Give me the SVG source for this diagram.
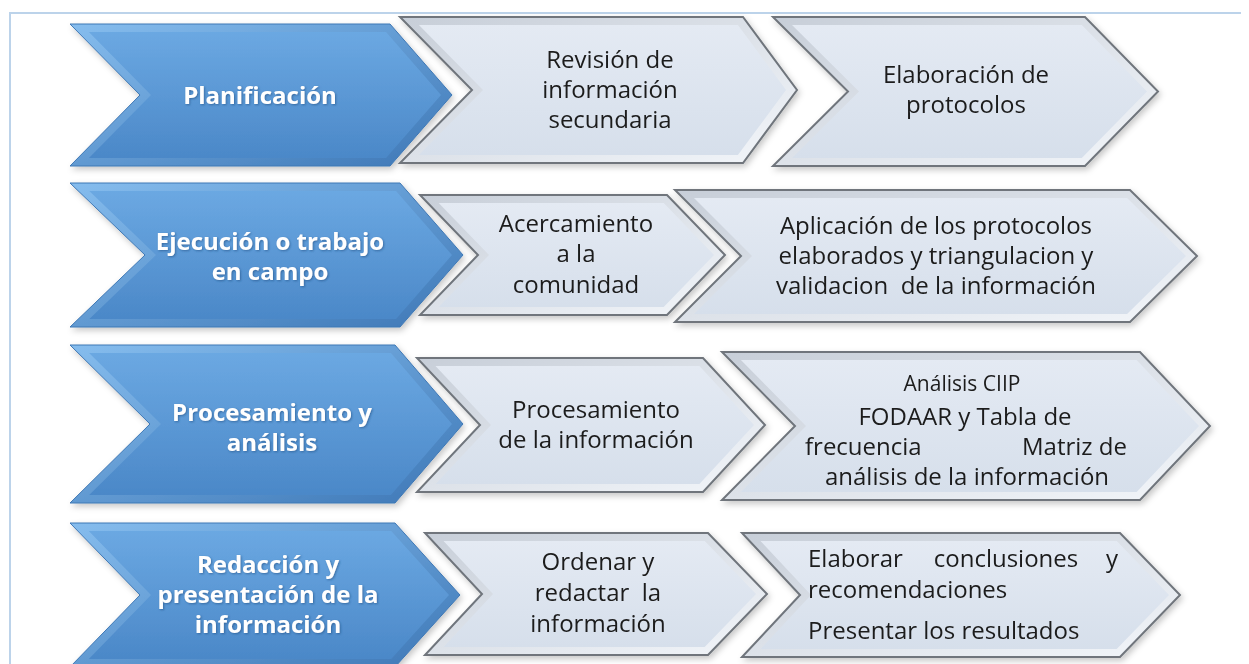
<svg xmlns="http://www.w3.org/2000/svg" width="1249" height="664" viewBox="0 0 1249 664">
<defs>
  <linearGradient id="blueFace" x1="0" y1="0" x2="0" y2="1">
    <stop offset="0" stop-color="#6ba8e2"/>
    <stop offset="1" stop-color="#4b88c8"/>
  </linearGradient>
  <linearGradient id="blueRim" x1="0" y1="0" x2="1" y2="1">
    <stop offset="0" stop-color="#86bdee"/>
    <stop offset="1" stop-color="#3d77b6"/>
  </linearGradient>
  <linearGradient id="lightFace" x1="0" y1="0" x2="0" y2="1">
    <stop offset="0" stop-color="#e4eaf3"/>
    <stop offset="1" stop-color="#d6dfeb"/>
  </linearGradient>
  <linearGradient id="lightRim" x1="0" y1="0" x2="1" y2="1">
    <stop offset="0" stop-color="#c7ced8"/>
    <stop offset="1" stop-color="#f3f6fa"/>
  </linearGradient>
  <filter id="shadow" x="-5%" y="-5%" width="110%" height="115%">
    <feDropShadow dx="2" dy="3" stdDeviation="3" flood-color="#000" flood-opacity="0.22"/>
  </filter>
  <filter id="tshadow" x="-5%" y="-20%" width="110%" height="140%">
    <feDropShadow dx="1" dy="1" stdDeviation="0.8" flood-color="#1f4e80" flood-opacity="0.6"/>
  </filter>
</defs>
<style>
  .frame { stroke:#bcd3ea; stroke-width:2; fill:none; }
  .b-out { fill:url(#blueRim); stroke:#3f78b5; stroke-width:1; }
  .b-in { fill:url(#blueFace); }
  .l-out { fill:url(#lightRim); stroke:#6f757c; stroke-width:2; }
  .l-in { fill:url(#lightFace); }
  .tw { font-family:"Open Sans","Liberation Sans",sans-serif; font-weight:bold; font-size:24px; fill:#ffffff; text-anchor:middle; }
  .td { font-family:"Open Sans","Liberation Sans",sans-serif; font-size:24px; fill:#1c1c1c; text-anchor:middle; white-space:pre; }
  .tds { font-family:"Open Sans","Liberation Sans",sans-serif; font-size:21px; fill:#1c1c1c; text-anchor:middle; }
  .tl { text-anchor:start; }
  .te { text-anchor:end; }
</style>
<rect width="1249" height="664" fill="#ffffff"/>
<path class="frame" d="M10,664 L10,13 L1241,13"/>

<g id="connectors"></g>

<!-- Row 1 -->
<g id="node-planificacion" filter="url(#shadow)">
  <polygon class="b-out" points="70,24 390,24 452,95 390,166 70,166 140,95"/>
  <polygon class="b-in" points="88.9,32 386,32 441,95 386,158 88.9,158 151,95"/>
  <text class="tw" x="260" y="104" filter="url(#tshadow)">Planificación</text>
</g>
<g id="node-revision" filter="url(#shadow)">
  <polygon class="l-out" points="400,17 743,17 797,90 743,163 400,163 472,90"/>
  <polygon class="l-in" points="418.9,25 737.9,25 786,90 737.9,155 418.9,155 483,90"/>
  <text class="td" x="610" y="68">Revisión de</text>
  <text class="td" x="610" y="98">información</text>
  <text class="td" x="610" y="128">secundaria</text>
</g>
<g id="node-elaboracion" filter="url(#shadow)">
  <polygon class="l-out" points="773,17 1085,17 1158,91.5 1085,166 773,166 848,91.5"/>
  <polygon class="l-in" points="792,25 1081.8,25 1147,91.5 1081.8,158 792,158 859,91.5"/>
  <text class="td" x="966" y="83">Elaboración de</text>
  <text class="td" x="966" y="113">protocolos</text>
</g>

<!-- Row 2 -->
<g id="node-ejecucion" filter="url(#shadow)">
  <polygon class="b-out" points="70,183 400,183 463,255 400,327 70,327 145,255"/>
  <polygon class="b-in" points="89.3,191 396,191 452,255 396,319 89.3,319 156,255"/>
  <text class="tw" x="270" y="250" filter="url(#tshadow)">Ejecución o trabajo</text>
  <text class="tw" x="270" y="280" filter="url(#tshadow)">en campo</text>
</g>
<g id="node-acercamiento" filter="url(#shadow)">
  <polygon class="l-out" points="420,195 667,195 725,255 667,315 420,315 478,255"/>
  <polygon class="l-in" points="438.7,203 663.7,203 714,255 663.7,307 438.7,307 489,255"/>
  <text class="td" x="576" y="232">Acercamiento</text>
  <text class="td" x="576" y="262">a la</text>
  <text class="td" x="576" y="293">comunidad</text>
</g>
<g id="node-aplicacion" filter="url(#shadow)">
  <polygon class="l-out" points="675,190 1130,190 1197,256 1130,322 675,322 741,256"/>
  <polygon class="l-in" points="694,198 1127.1,198 1186,256 1127.1,314 694,314 752,256"/>
  <text class="td" x="936" y="234">Aplicación de los protocolos</text>
  <text class="td" x="936" y="264">elaborados y triangulacion y</text>
  <text class="td" x="936" y="294">validacion  de la información</text>
</g>

<!-- Row 3 -->
<g id="node-procesamiento-analisis" filter="url(#shadow)">
  <polygon class="b-out" points="70,345 395,345 463,424 395,503 70,503 150,424"/>
  <polygon class="b-in" points="89.1,353 390.9,353 452,424 390.9,495 89.1,495 161,424"/>
  <text class="tw" x="272" y="421" filter="url(#tshadow)">Procesamiento y</text>
  <text class="tw" x="272" y="451" filter="url(#tshadow)">análisis</text>
</g>
<g id="node-procesamiento-info" filter="url(#shadow)">
  <polygon class="l-out" points="417,358 703,358 765,425 703,492 417,492 480,425"/>
  <polygon class="l-in" points="435.5,366 699.4,366 754,425 699.4,484 435.5,484 491,425"/>
  <text class="td" x="596" y="418">Procesamiento</text>
  <text class="td" x="596" y="448">de la información</text>
</g>
<g id="node-analisis" filter="url(#shadow)">
  <polygon class="l-out" points="722,352 1140,352 1210,426 1140,500 722,500 795,426"/>
  <polygon class="l-in" points="740.9,360 1136.6,360 1199,426 1136.6,492 740.9,492 806,426"/>
  <text class="tds" x="962" y="391">Análisis CIIP</text>
  <text class="td" x="965" y="425">FODAAR y Tabla de</text>
  <text class="td tl" x="805" y="455">frecuencia</text>
  <text class="td te" x="1127" y="455">Matriz de</text>
  <text class="td" x="967" y="485">análisis de la información</text>
</g>

<!-- Row 4 -->
<g id="node-redaccion" filter="url(#shadow)">
  <polygon class="b-out" points="70,523 395,523 460,595 395,667 70,667 140,595"/>
  <polygon class="b-in" points="88.8,531 391.2,531 449,595 391.2,659 88.8,659 151,595"/>
  <text class="tw" x="268" y="573" filter="url(#tshadow)">Redacción y</text>
  <text class="tw" x="268" y="603" filter="url(#tshadow)">presentación de la</text>
  <text class="tw" x="268" y="633" filter="url(#tshadow)">información</text>
</g>
<g id="node-ordenar" filter="url(#shadow)">
  <polygon class="l-out" points="425,533 708,533 767,594 708,655 425,655 482,594"/>
  <polygon class="l-in" points="443.5,541 704.7,541 756,594 704.7,647 443.5,647 493,594"/>
  <text class="td" x="598" y="570">Ordenar y</text>
  <text class="td" x="598" y="601">redactar  la</text>
  <text class="td" x="598" y="632">información</text>
</g>
<g id="node-conclusiones" filter="url(#shadow)">
  <polygon class="l-out" points="742,533 1120,533 1180,595 1120,657 742,657 800,595"/>
  <polygon class="l-in" points="760.5,541 1116.7,541 1169,595 1116.7,649 760.5,649 811,595"/>
  <text class="td tl" x="808" y="567">Elaborar</text>
  <text class="td" x="1006" y="567">conclusiones</text>
  <text class="td te" x="1118" y="567">y</text>
  <text class="td tl" x="808" y="598">recomendaciones</text>
  <text class="td tl" x="808" y="639">Presentar los resultados</text>
</g>
</svg>
